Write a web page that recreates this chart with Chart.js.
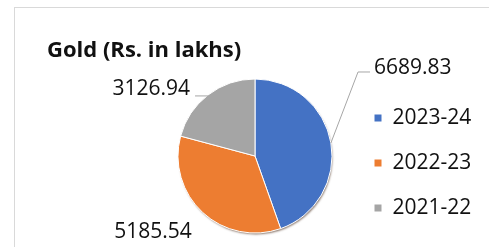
<!DOCTYPE html>
<html>
<head>
<meta charset="utf-8">
<script src="https://cdn.jsdelivr.net/npm/chart.js@4"></script>
<style>
  html, body { margin: 0; padding: 0; background: #fff; overflow: hidden; }
  #wrap { position: relative; width: 489px; height: 247px; overflow: hidden; }
  #frame { position: absolute; left: 14px; top: 7px; width: 600px; height: 400px; border: 1px solid #d9d9d9; box-sizing: border-box; }
  #title { position: absolute; left: 47px; top: 37px; margin: 0; font: bold 22px "Open Sans", sans-serif; line-height: 22px; color: #111; white-space: nowrap; }
  canvas { position: absolute; left: 0; top: 0; }
</style>
</head>
<body>
<div id="wrap">
  <div id="frame"></div>
  <canvas id="c" width="489" height="247"></canvas>
  <div id="title">Gold (Rs. in lakhs)</div>
</div>
<script>
// ---- data ----
const categories = ['2023-24', '2022-23', '2021-22'];
const goldValues = [6689.83, 5185.54, 3126.94];
const sliceColors = ['#4472C4', '#ED7D31', '#A5A5A5'];
const chartTitle = 'Gold (Rs. in lakhs)';

// label placement (relative to pie centre, in units of radius)
const labelPlacement = [
  { x: 1.545, y: -1.143, align: 'left', leader: [[1.338, -1.091], [1.494, -1.091]] },
  { x: -1.325, y: 0.987, align: 'center', leader: null },
  { x: -0.844, y: -0.870, align: 'right', leader: 'horizontal', leaderX: -0.779 }
];

const pieShadow = {
  id: 'pieShadow',
  beforeDatasetsDraw(chart) {
    const meta = chart.getDatasetMeta(0);
    if (!meta.data.length) return;
    const a = meta.data[0];
    const ctx = chart.ctx;
    ctx.save();
    ctx.beginPath();
    ctx.arc(a.x, a.y, a.outerRadius - 0.5, 0, Math.PI * 2);
    ctx.fillStyle = '#ffffff';
    ctx.shadowColor = 'rgba(60,30,10,0.55)';
    ctx.shadowOffsetX = 1;
    ctx.shadowOffsetY = 2;
    ctx.shadowBlur = 2;
    ctx.fill();
    ctx.restore();
  }
};

const dataLabels = {
  id: 'dataLabels',
  afterDatasetsDraw(chart) {
    const meta = chart.getDatasetMeta(0);
    const ds = chart.data.datasets[0];
    const ctx = chart.ctx;
    ctx.save();
    ctx.font = '21px "Open Sans", sans-serif';
    ctx.fillStyle = '#111';
    ctx.textBaseline = 'middle';
    ctx.strokeStyle = '#a6a6a6';
    ctx.lineWidth = 1;
    meta.data.forEach((arc, i) => {
      const p = arc.getProps(['x', 'y', 'startAngle', 'endAngle', 'outerRadius'], true);
      const r = p.outerRadius;
      const mid = (p.startAngle + p.endAngle) / 2;
      const ex = p.x + Math.cos(mid) * r;
      const ey = p.y + Math.sin(mid) * r;
      const pl = labelPlacement[i];
      if (pl.leader === 'horizontal') {
        ctx.beginPath();
        ctx.moveTo(ex, ey + 1);
        ctx.lineTo(p.x + pl.leaderX * r, ey + 1);
        ctx.stroke();
      } else if (Array.isArray(pl.leader)) {
        ctx.beginPath();
        ctx.moveTo(ex, ey);
        pl.leader.forEach(pt => ctx.lineTo(p.x + pt[0] * r, p.y + pt[1] * r));
        ctx.stroke();
      }
      ctx.textAlign = pl.align;
      ctx.fillText(ds.data[i].toFixed(2), p.x + pl.x * r, p.y + pl.y * r);
    });
    ctx.restore();
  }
};

new Chart(document.getElementById('c'), {
  type: 'pie',
  data: {
    labels: categories,
    datasets: [{
      label: chartTitle,
      data: goldValues,
      backgroundColor: sliceColors,
      borderColor: '#ffffff',
      borderWidth: 1,
      radius: 77
    }]
  },
  options: {
    responsive: false,
    animation: false,
    devicePixelRatio: 1,
    layout: { padding: { left: 160, right: 9, top: 65, bottom: 0 } },
    plugins: {
      title: { display: false },
      tooltip: { enabled: false },
      legend: {
        display: true,
        position: 'right',
        align: 'center',
        maxWidth: 130,
        title: { display: true, text: '', font: { size: 10 }, padding: 1 },
        labels: {
          boxWidth: 8,
          boxHeight: 8,
          padding: 24,
          color: '#111',
          font: { family: '"Open Sans", sans-serif', size: 21 }
        }
      }
    }
  },
  plugins: [pieShadow, dataLabels]
});
</script>
</body>
</html>
